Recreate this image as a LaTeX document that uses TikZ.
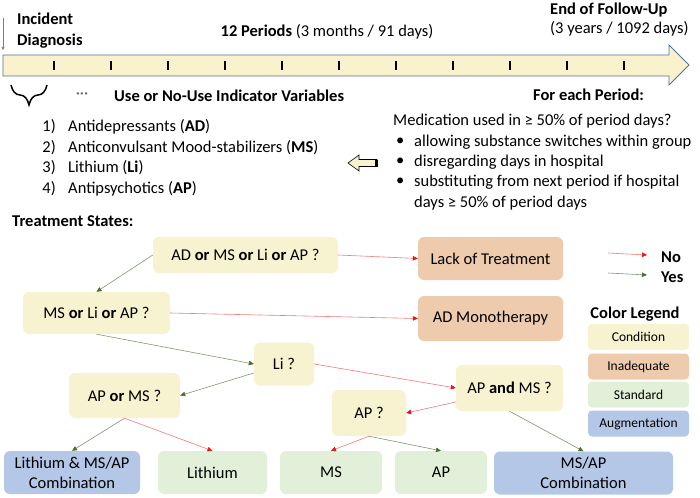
\documentclass[tikz,border=0pt]{standalone}
\usepackage{fontspec}
\setmainfont{Carlito}
\usetikzlibrary{arrows.meta, decorations.pathreplacing}

\definecolor{condfill}{HTML}{F7F2CF}
\definecolor{inadfill}{HTML}{EFCBAE}
\definecolor{stdfill}{HTML}{E2F0D9}
\definecolor{augfill}{HTML}{B4C7E7}
\definecolor{barfill}{HTML}{FAF2CD}
\definecolor{barline}{HTML}{52729A}
\definecolor{noline}{HTML}{F27A7A}
\definecolor{nohead}{HTML}{F01010}
\definecolor{yesline}{HTML}{7F9870}
\definecolor{yeshead}{HTML}{4A7028}

\begin{document}
\begin{tikzpicture}[
    x=1pt, y=-1pt,
    txt/.style={inner sep=0pt, font=\fontsize{16.5}{20}\selectfont},
    head/.style={txt, font=\fontsize{16.5}{20}\selectfont\bfseries},
    box/.style={rounded corners=6pt, inner sep=2pt, align=center, font=\fontsize{16.5}{20}\selectfont},
    cond/.style={box, fill=condfill},
    inad/.style={box, fill=inadfill},
    std/.style={box, fill=stdfill},
    aug/.style={box, fill=augfill},
    legbox/.style={rounded corners=4pt, minimum width=101pt, minimum height=26pt, font=\fontsize{13.5}{15}\selectfont},
    no edge/.style={draw=noline, line width=0.6pt, -{Triangle[length=5pt, width=4.5pt, color=nohead]}},
    yes edge/.style={draw=yesline, line width=0.6pt, -{Triangle[length=5pt, width=4.5pt, color=yeshead]}},
    tick/.style={line width=1.6pt}
]
\useasboundingbox (0,0) rectangle (700,497);

% --- Time line ---
\draw[barline, fill=barfill, line width=0.8pt]
    (3,55) -- (669,55) -- (669,45) -- (689,65) -- (669,85) -- (669,76) -- (3,76) -- cycle;
\foreach \i in {0,...,10} {
    \draw[tick] ({54+57*\i},61) -- ++(0,9);
}
\coordinate (diagtop) at (3,18);
\coordinate (diagbot) at (3,50);
\draw[gray, line width=0.6pt, -{Triangle[length=3pt, width=3pt]}] (diagtop) -- (diagbot);

\node[head, anchor=west, align=left, font=\fontsize{16.5}{21}\selectfont\bfseries] (incident) at (17,31) {Incident\\Diagnosis};
\node[txt] (periods) at (327,32) {\textbf{12 Periods} (3 months / 91 days)};
\node[head, anchor=west] (endfu) at (550,10) {End of Follow-Up};
\node[txt, anchor=west] (endyears) at (550,29) {(3 years / 1092 days)};

% --- Indicator variables ---
\coordinate (bracel) at (11,85);
\coordinate (bracer) at (47,85);
\draw[decorate, decoration={brace, mirror, amplitude=20pt, aspect=0.5}, line width=1.5pt] (bracel) -- (bracer);
\node[txt, text=black!60] (dots) at (82,96) {\textperiodcentered\textperiodcentered\textperiodcentered};
\node[head, anchor=west] (indicator) at (114,96) {Use or No-Use Indicator Variables};

\node[txt, anchor=east] (n1) at (56,127) {1)};
\node[txt, anchor=west] (drug1) at (68,127) {Antidepressants (\textbf{AD})};
\node[txt, anchor=east] (n2) at (56,148) {2)};
\node[txt, anchor=west] (drug2) at (68,148) {Anticonvulsant Mood-stabilizers (\textbf{MS})};
\node[txt, anchor=east] (n3) at (56,168) {3)};
\node[txt, anchor=west] (drug3) at (68,168) {Lithium (\textbf{Li})};
\node[txt, anchor=east] (n4) at (56,189) {4)};
\node[txt, anchor=west] (drug4) at (68,189) {Antipsychotics (\textbf{AP})};

% --- Period rule ---
\node[head, anchor=west] (foreach) at (533,95) {For each Period:};
\node[txt, anchor=west] (medused) at (393,121) {Medication used in ≥ 50\% of period days?};
\node[txt, anchor=west] (b1) at (396,142) {\textbullet};
\node[txt, anchor=west] (rule1) at (414,142) {allowing substance switches within group};
\node[txt, anchor=west] (b2) at (396,162) {\textbullet};
\node[txt, anchor=west] (rule2) at (414,162) {disregarding days in hospital};
\node[txt, anchor=west] (b3) at (396,182) {\textbullet};
\node[txt, anchor=west] (rule3a) at (414,182) {substituting from next period if hospital};
\node[txt, anchor=west] (rule3b) at (414,203) {days ≥ 50\% of period days};
\draw[fill=barfill, line width=0.6pt]
    (348,163) -- (359,155) -- (359,159.5) -- (377,159.5) -- (377,166.5) -- (359,166.5) -- (359,171) -- cycle;
\fill (375,159.5) rectangle (377.5,166.5);

% --- Treatment states ---
\node[head, anchor=west] (states) at (12,221) {Treatment States:};

\node[cond, minimum width=185pt, minimum height=36pt] (any) at (245.5,255) {AD \textbf{or} MS \textbf{or} Li \textbf{or} AP ?};
\node[inad, minimum width=145pt, minimum height=43pt] (lack) at (490.5,258.5) {Lack of Treatment};
\node[cond, minimum width=147pt, minimum height=42pt] (msliap) at (96.5,313) {MS \textbf{or} Li \textbf{or} AP ?};
\node[inad, minimum width=145pt, minimum height=45pt] (admono) at (490.5,318.5) {AD Monotherapy};
\node[cond, minimum width=60pt, minimum height=43pt] (li) at (284,364) {Li ?};
\node[cond, minimum width=111pt, minimum height=45pt] (aporms) at (124.5,395.5) {AP \textbf{or} MS ?};
\node[cond, minimum width=107pt, minimum height=46pt] (apandms) at (509.5,388) {AP \textbf{and} MS ?};
\node[cond, minimum width=74pt, minimum height=46pt] (apq) at (369,413) {AP ?};

\node[aug, minimum width=136pt, minimum height=43pt] (licomb) at (72,472.5) {Lithium \& MS/AP\\Combination};
\node[std, minimum width=109pt, minimum height=43pt] (lithium) at (212.5,472.5) {Lithium};
\node[std, minimum width=102pt, minimum height=43pt] (ms) at (331,472.5) {MS};
\node[std, minimum width=92pt, minimum height=43pt] (ap) at (441,472.5) {AP};
\node[aug, minimum width=179pt, minimum height=43pt] (msapcomb) at (583.5,473) {MS/AP\\Combination};

% --- Decisions ---
\draw[no edge] (any.east) -- (lack.west);
\draw[yes edge] (any.west) -- (msliap.north);
\draw[no edge] (msliap.east) -- (admono.west);
\draw[yes edge] (msliap.south) -- (li.west);
\draw[no edge] (li.east) -- (apandms.west);
\draw[yes edge] ([yshift=-9pt]li.west) -- (aporms.east);
\draw[no edge] ([yshift=-14pt]apandms.west) -- (apq.east);
\draw[yes edge] (apandms.south) -- (msapcomb.north);
\draw[yes edge] (aporms.south) -- (licomb.north);
\draw[no edge] (aporms.south) -- (lithium.north);
\draw[no edge] (apq.south) -- (ms.north);
\draw[yes edge] (apq.south) -- (ap.north);

% --- Legend ---
\coordinate (noA) at (608,253);
\coordinate (noB) at (647,255);
\coordinate (yesA) at (608,273);
\coordinate (yesB) at (647,275);
\draw[no edge] (noA) -- (noB);
\draw[yes edge] (yesA) -- (yesB);
\node[head, anchor=west] (nolabel) at (661,257) {No};
\node[head, anchor=west] (yeslabel) at (661,277) {Yes};

\node[head] (legend) at (635,314) {Color Legend};
\node[legbox, fill=condfill] (lcond) at (638.5,337) {Condition};
\node[legbox, fill=inadfill] (linad) at (638.5,366.5) {Inadequate};
\node[legbox, fill=stdfill] (lstd) at (638.5,394.5) {Standard};
\node[legbox, fill=augfill] (laug) at (638.5,423.5) {Augmentation};

\end{tikzpicture}
\end{document}
